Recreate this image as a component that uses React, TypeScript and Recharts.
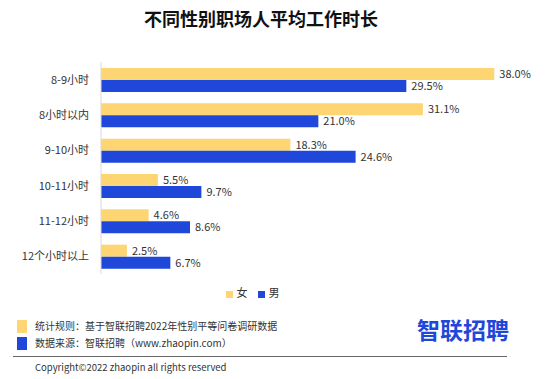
import React from 'react';
import { BarChart, Bar, XAxis, YAxis, Legend, LabelList } from 'recharts';

const categories = ['8-9小时', '8小时以内', '9-10小时', '10-11小时', '11-12小时', '12个小时以上'];
const femaleValues = [38.0, 31.1, 18.3, 5.5, 4.6, 2.5];
const maleValues = [29.5, 21.0, 24.6, 9.7, 8.6, 6.7];

const YELLOW = '#FDD673';
const BLUE = '#1F48DB';
const FONT = '"Noto Sans CJK SC", "Noto Sans", sans-serif';

const data = categories.map((name, i) => ({ name, female: femaleValues[i], male: maleValues[i] }));

const fmt = (v: any) => `${Number(v).toFixed(1)}%`;

const App: React.FC = () => {
  return (
    <div style={{ position: 'fixed', top: 0, left: 0, width: 550, height: 379, background: '#fff', fontFamily: FONT }}>
      <div style={{ position: 'absolute', top: 5, left: 0, width: 522, textAlign: 'center', fontSize: 18, fontWeight: 700, color: '#111' }}>
        不同性别职场人平均工作时长
      </div>
      <BarChart
        width={550}
        height={379}
        data={data}
        layout="vertical"
        margin={{ top: 46, right: 35, bottom: 105, left: 0 }}
        barGap={0}
        barCategoryGap={6}
      >
        <XAxis type="number" domain={[0, 40]} hide />
        <YAxis
          type="category"
          dataKey="name"
          width={101}
          tickLine={false}
          axisLine={{ stroke: '#d9d9d9' }}
          tick={{ fill: '#333', fontSize: 11, fontFamily: FONT }}
          tickMargin={6}
        />
        <Legend
          verticalAlign="top"
          iconType="square"
          iconSize={7}
          wrapperStyle={{ top: 284, fontSize: 11, fontFamily: FONT }}
          formatter={(value: string) => <span style={{ color: '#333' }}>{value}</span>}
        />
        <Bar dataKey="female" name="女" fill={YELLOW} barSize={12} isAnimationActive={false}>
          <LabelList dataKey="female" position="right" offset={5} formatter={fmt} style={{ fill: '#333', fontSize: 11, fontFamily: FONT }} />
        </Bar>
        <Bar dataKey="male" name="男" fill={BLUE} barSize={12} isAnimationActive={false}>
          <LabelList dataKey="male" position="right" offset={5} formatter={fmt} style={{ fill: '#333', fontSize: 11, fontFamily: FONT }} />
        </Bar>
      </BarChart>
      <div style={{ position: 'absolute', left: 17, top: 320, width: 10, height: 13, background: YELLOW }} />
      <div style={{ position: 'absolute', left: 17, top: 337, width: 10, height: 13, background: BLUE }} />
      <div style={{ position: 'absolute', left: 35, top: 319, fontSize: 10, color: '#333', lineHeight: '14px' }}>
        统计规则：基于智联招聘2022年性别平等问卷调研数据
      </div>
      <div style={{ position: 'absolute', left: 35, top: 336, fontSize: 10, color: '#333', lineHeight: '14px' }}>
        数据来源：智联招聘（www.zhaopin.com）
      </div>
      <div style={{ position: 'absolute', left: 417, top: 314, fontSize: 23, fontWeight: 700, color: '#1F48DB', lineHeight: '30px' }}>
        智联招聘
      </div>
      <div style={{ position: 'absolute', left: 13, top: 356, width: 494, height: 1, background: '#666' }} />
      <div style={{ position: 'absolute', left: 35, top: 361, fontSize: 9.5, color: '#333', lineHeight: '13px' }}>
        Copyright©2022 zhaopin all rights reserved
      </div>
    </div>
  );
};

export default App;
